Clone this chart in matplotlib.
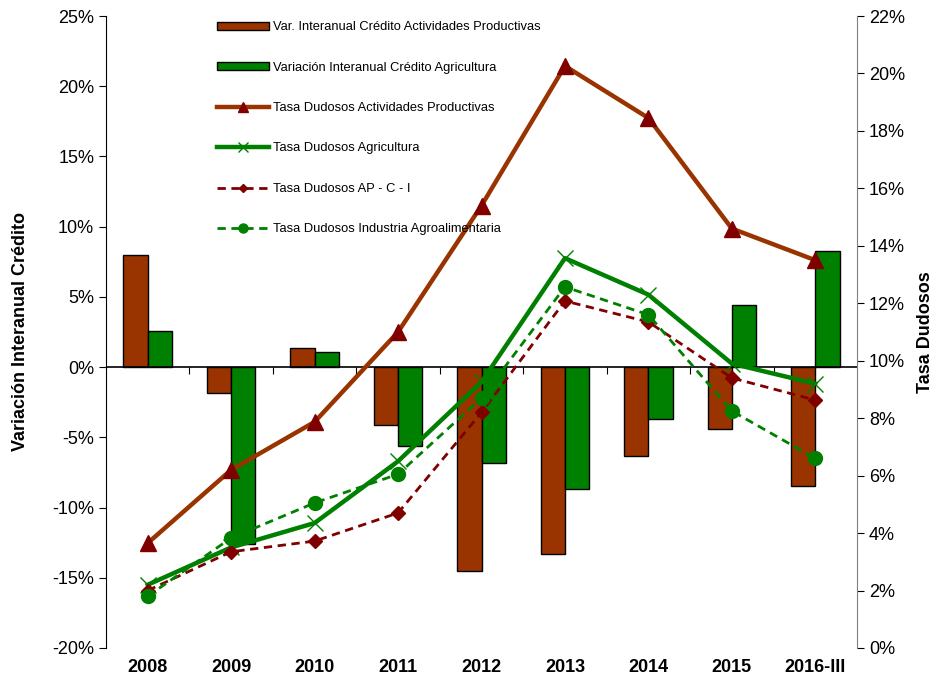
import numpy as np
import matplotlib
matplotlib.use('Agg')
import matplotlib.pyplot as plt
from matplotlib.ticker import FuncFormatter, FixedLocator

plt.rcParams['font.family'] = ['Liberation Sans', 'DejaVu Sans']

# Data
years = ['2008', '2009', '2010', '2011', '2012', '2013', '2014', '2015', '2016-III']
var_act_prod = [8.0, -1.85, 1.35, -4.1, -14.5, -13.3, -6.3, -4.4, -8.5]
var_agri = [2.6, -12.6, 1.05, -5.6, -6.8, -8.7, -3.7, 4.4, 8.3]
dud_act_prod = [3.65, 6.2, 7.87, 11.0, 15.4, 20.26, 18.45, 14.6, 13.5]
dud_agri = [2.2, 3.5, 4.35, 6.5, 9.26, 13.57, 12.3, 9.9, 9.2]
dud_apci = [2.0, 3.35, 3.72, 4.7, 8.2, 12.08, 11.35, 9.4, 8.63]
dud_agroal = [1.8, 3.83, 5.05, 6.05, 8.7, 12.57, 11.6, 8.25, 6.6]

brown = '#993300'
green = '#008000'
darkred = '#800000'

fig = plt.figure(figsize=(9.42, 6.82), dpi=100)
ax = fig.add_axes([0.1125, 0.0499, 0.7973, 0.9266])
ax2 = ax.twinx()

x = np.arange(len(years))
w = 0.29
b1 = ax.bar(x - w / 2, var_act_prod, w, color=brown, edgecolor='black', linewidth=1,
            label='Var. Interanual Crédito Actividades Productivas')
b2 = ax.bar(x + w / 2, var_agri, w, color=green, edgecolor='black', linewidth=1,
            label='Variación Interanual Crédito Agricultura')

ax.set_xlim(-0.5, len(years) - 0.5)
ax.set_ylim(-20, 25)
ax.set_yticks(np.arange(-20, 26, 5))
ax.yaxis.set_major_formatter(FuncFormatter(lambda v, p: f'{v:.0f}%'))
ax.tick_params(axis='y', labelsize=13, direction='out', length=5)
ax.set_xticks(x)
ax.set_xticklabels(years, fontsize=13, fontweight='bold')
ax.tick_params(axis='x', length=0, pad=8)
ax.spines['bottom'].set_visible(False)
ax.spines['top'].set_visible(False)
ax.spines['right'].set_visible(False)
ax.set_ylabel('Variación Interanual Crédito', fontsize=13, fontweight='bold', labelpad=17)

# zero line with category separator ticks
ax.axhline(0, color='black', linewidth=1.2, zorder=3)
sec = ax.secondary_xaxis(20 / 45)
sec.spines['bottom'].set_visible(False)
sec.xaxis.set_major_locator(FixedLocator(x[:-1] + 0.5))
sec.tick_params(axis='x', direction='out', length=5, labelbottom=False)

l1, = ax2.plot(x, dud_act_prod, color=brown, linewidth=3.2, marker='^', markersize=11,
               markerfacecolor=darkred, markeredgecolor=darkred,
               label='Tasa Dudosos Actividades Productivas')
l2, = ax2.plot(x, dud_agri, color=green, linewidth=3.2, marker='x', markersize=11,
               markeredgewidth=1, label='Tasa Dudosos Agricultura')
l3, = ax2.plot(x, dud_apci, color=darkred, linewidth=2, linestyle=(0, (3, 2)), marker='D',
               markersize=7, label='Tasa Dudosos AP - C - I')
l4, = ax2.plot(x, dud_agroal, color=green, linewidth=2, linestyle=(0, (3, 2)), marker='o',
               markersize=10, label='Tasa Dudosos Industria Agroalimentaria')

ax2.set_ylim(0, 22)
ax2.set_yticks(np.arange(0, 23, 2))
ax2.yaxis.set_major_formatter(FuncFormatter(lambda v, p: f'{v:.0f}%'))
ax2.tick_params(axis='y', labelsize=13, direction='out', length=5, colors='black')
ax2.spines['right'].set_color('#808080')
ax2.spines['top'].set_visible(False)
ax2.spines['left'].set_visible(False)
ax2.spines['bottom'].set_visible(False)
ax2.set_ylabel('Tasa Dudosos', fontsize=13, fontweight='bold', labelpad=9)

handles = [b1, b2, l1, l2, l3, l4]
fig.legend(handles, [h.get_label() for h in handles], loc='upper left',
           bbox_to_anchor=(0.218, 0.986), frameon=False, fontsize=9.3,
           handlelength=4.0, handletextpad=0.35, labelspacing=2.2,
           handleheight=0.6, markerscale=0.65)

fig.savefig('out.png', dpi=100)
